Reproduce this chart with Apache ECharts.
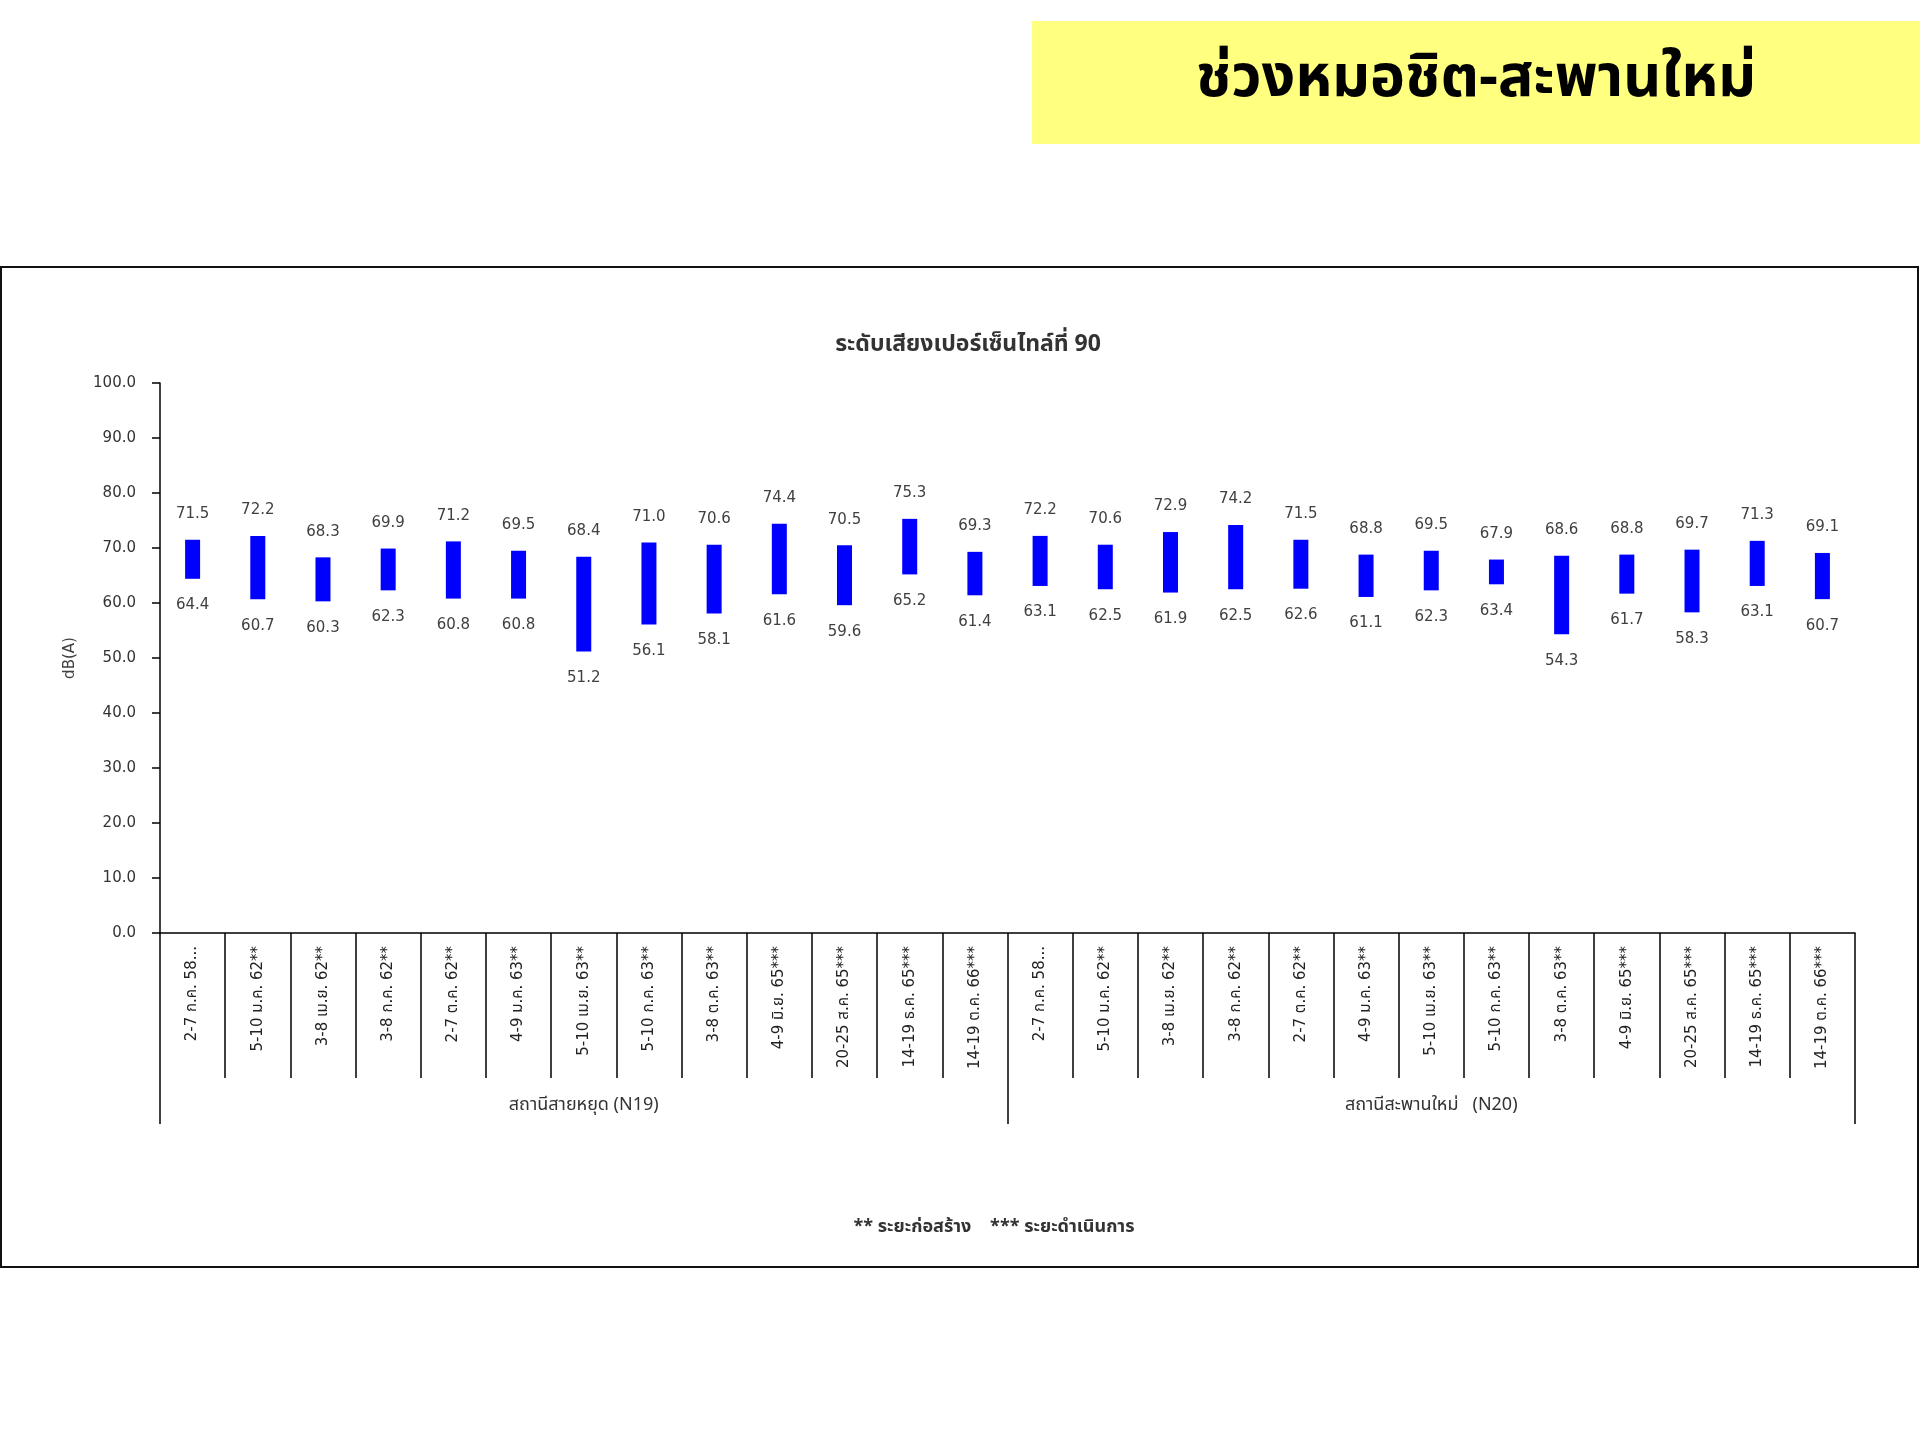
<!DOCTYPE html>
<html><head><meta charset="utf-8">
<script src="https://cdn.jsdelivr.net/npm/echarts@6/dist/echarts.min.js"></script>
<style>html,body{margin:0;padding:0;background:#fff}#c{width:1920px;height:1440px}</style>
</head><body><div id="c"></div>
<script>
const slideTitle = 'ช่วงหมอชิต-สะพานใหม่';
const chartTitle = 'ระดับเสียงเปอร์เซ็นไทล์ที่ 90';
const yAxisName = 'dB(A)';
const footnote = '** ระยะก่อสร้าง    *** ระยะดำเนินการ';
const groups = ['สถานีสายหยุด (N19)', 'สถานีสะพานใหม่   (N20)'];
const periods = ['2-7 ก.ค. 58...', '5-10 ม.ค. 62**', '3-8 เม.ย. 62**', '3-8 ก.ค. 62**', '2-7 ต.ค. 62**',
  '4-9 ม.ค. 63**', '5-10 เม.ย. 63**', '5-10 ก.ค. 63**', '3-8 ต.ค. 63**', '4-9 มิ.ย. 65***',
  '20-25 ส.ค. 65***', '14-19 ธ.ค. 65***', '14-19 ต.ค. 66***'];
const categories = periods.concat(periods);
const highN19 = [71.5, 72.2, 68.3, 69.9, 71.2, 69.5, 68.4, 71.0, 70.6, 74.4, 70.5, 75.3, 69.3];
const lowN19  = [64.4, 60.7, 60.3, 62.3, 60.8, 60.8, 51.2, 56.1, 58.1, 61.6, 59.6, 65.2, 61.4];
const highN20 = [72.2, 70.6, 72.9, 74.2, 71.5, 68.8, 69.5, 67.9, 68.6, 68.8, 69.7, 71.3, 69.1];
const lowN20  = [63.1, 62.5, 61.9, 62.5, 62.6, 61.1, 62.3, 63.4, 54.3, 61.7, 58.3, 63.1, 60.7];
const yMin = 0, yMax = 100, yInterval = 10;

const highValues = highN19.concat(highN20);
const lowValues = lowN19.concat(lowN20);
const rangeValues = highValues.map((h, i) => +(h - lowValues[i]).toFixed(1));

const FONT = "'DejaVu Sans', 'Noto Sans Thai', 'Noto Sans', sans-serif";
const THAI = "'Noto Sans Thai', 'Noto Sans', 'DejaVu Sans', sans-serif";
const chart = echarts.init(document.getElementById('c'));
chart.setOption({
  backgroundColor: '#fff',
  animation: false,
  grid: { left: 160, right: 65, top: 383, bottom: 507, containLabel: false },
  xAxis: [{
    type: 'category', data: categories, position: 'bottom',
    axisLine: { lineStyle: { color: '#000', width: 1.5 } },
    axisTick: { show: true, interval: 0, length: 145, lineStyle: { color: '#000', width: 1.5 } },
    axisLabel: { interval: 0, rotate: 90, margin: 13, fontSize: 15, color: '#222', fontFamily: FONT }
  }, {
    type: 'category', data: groups, position: 'bottom',
    axisLine: { show: false },
    axisTick: { show: true, interval: 0, length: 191, lineStyle: { color: '#000', width: 1.5 } },
    axisLabel: { interval: 0, margin: 164, fontSize: 18, color: '#333', fontFamily: THAI }
  }],
  yAxis: {
    type: 'value', min: yMin, max: yMax, interval: yInterval,
    name: yAxisName, nameLocation: 'middle', nameGap: 82, nameRotate: 90,
    nameTextStyle: { fontSize: 15, color: '#404040', fontFamily: FONT },
    axisLine: { show: true, lineStyle: { color: '#000', width: 1.5 } },
    axisTick: { show: true, length: 8, lineStyle: { color: '#000', width: 1.5 } },
    splitLine: { show: false },
    axisLabel: { formatter: v => v.toFixed(1), margin: 24, fontSize: 15, color: '#333', fontFamily: FONT }
  },
  series: [{
    type: 'bar', stack: 'r', data: lowValues, barWidth: 15, silent: true,
    itemStyle: { color: 'rgba(0,0,0,0)' },
    label: { show: true, position: 'insideTop', distance: 19, color: '#404040', fontSize: 15, fontFamily: FONT,
      formatter: p => lowValues[p.dataIndex].toFixed(1) }
  }, {
    type: 'bar', stack: 'r', data: rangeValues, barWidth: 15,
    itemStyle: { color: '#0000FF' },
    label: { show: true, position: 'top', distance: 18, color: '#404040', fontSize: 15, fontFamily: FONT,
      formatter: p => highValues[p.dataIndex].toFixed(1) }
  }],
  graphic: [
    { type: 'rect', z: -10, shape: { x: 1032, y: 21, width: 888, height: 123 }, style: { fill: '#FFFF80' } },
    { type: 'text', x: 1476, y: 84, style: { text: slideTitle, fill: '#000', font: "bold 59px " + THAI, textAlign: 'center', textVerticalAlign: 'middle' } },
    { type: 'rect', z: -10, shape: { x: 1, y: 267, width: 1917, height: 1000 }, style: { fill: 'none', stroke: '#111', lineWidth: 2 } },
    { type: 'text', x: 968, y: 346, style: { text: chartTitle, fill: '#333', font: "bold 23px " + THAI, textAlign: 'center', textVerticalAlign: 'middle' } },
    { type: 'text', x: 994, y: 1228, style: { text: footnote, fill: '#333', font: "bold 18px " + THAI, textAlign: 'center', textVerticalAlign: 'middle' } }
  ]
});
</script></body></html>
